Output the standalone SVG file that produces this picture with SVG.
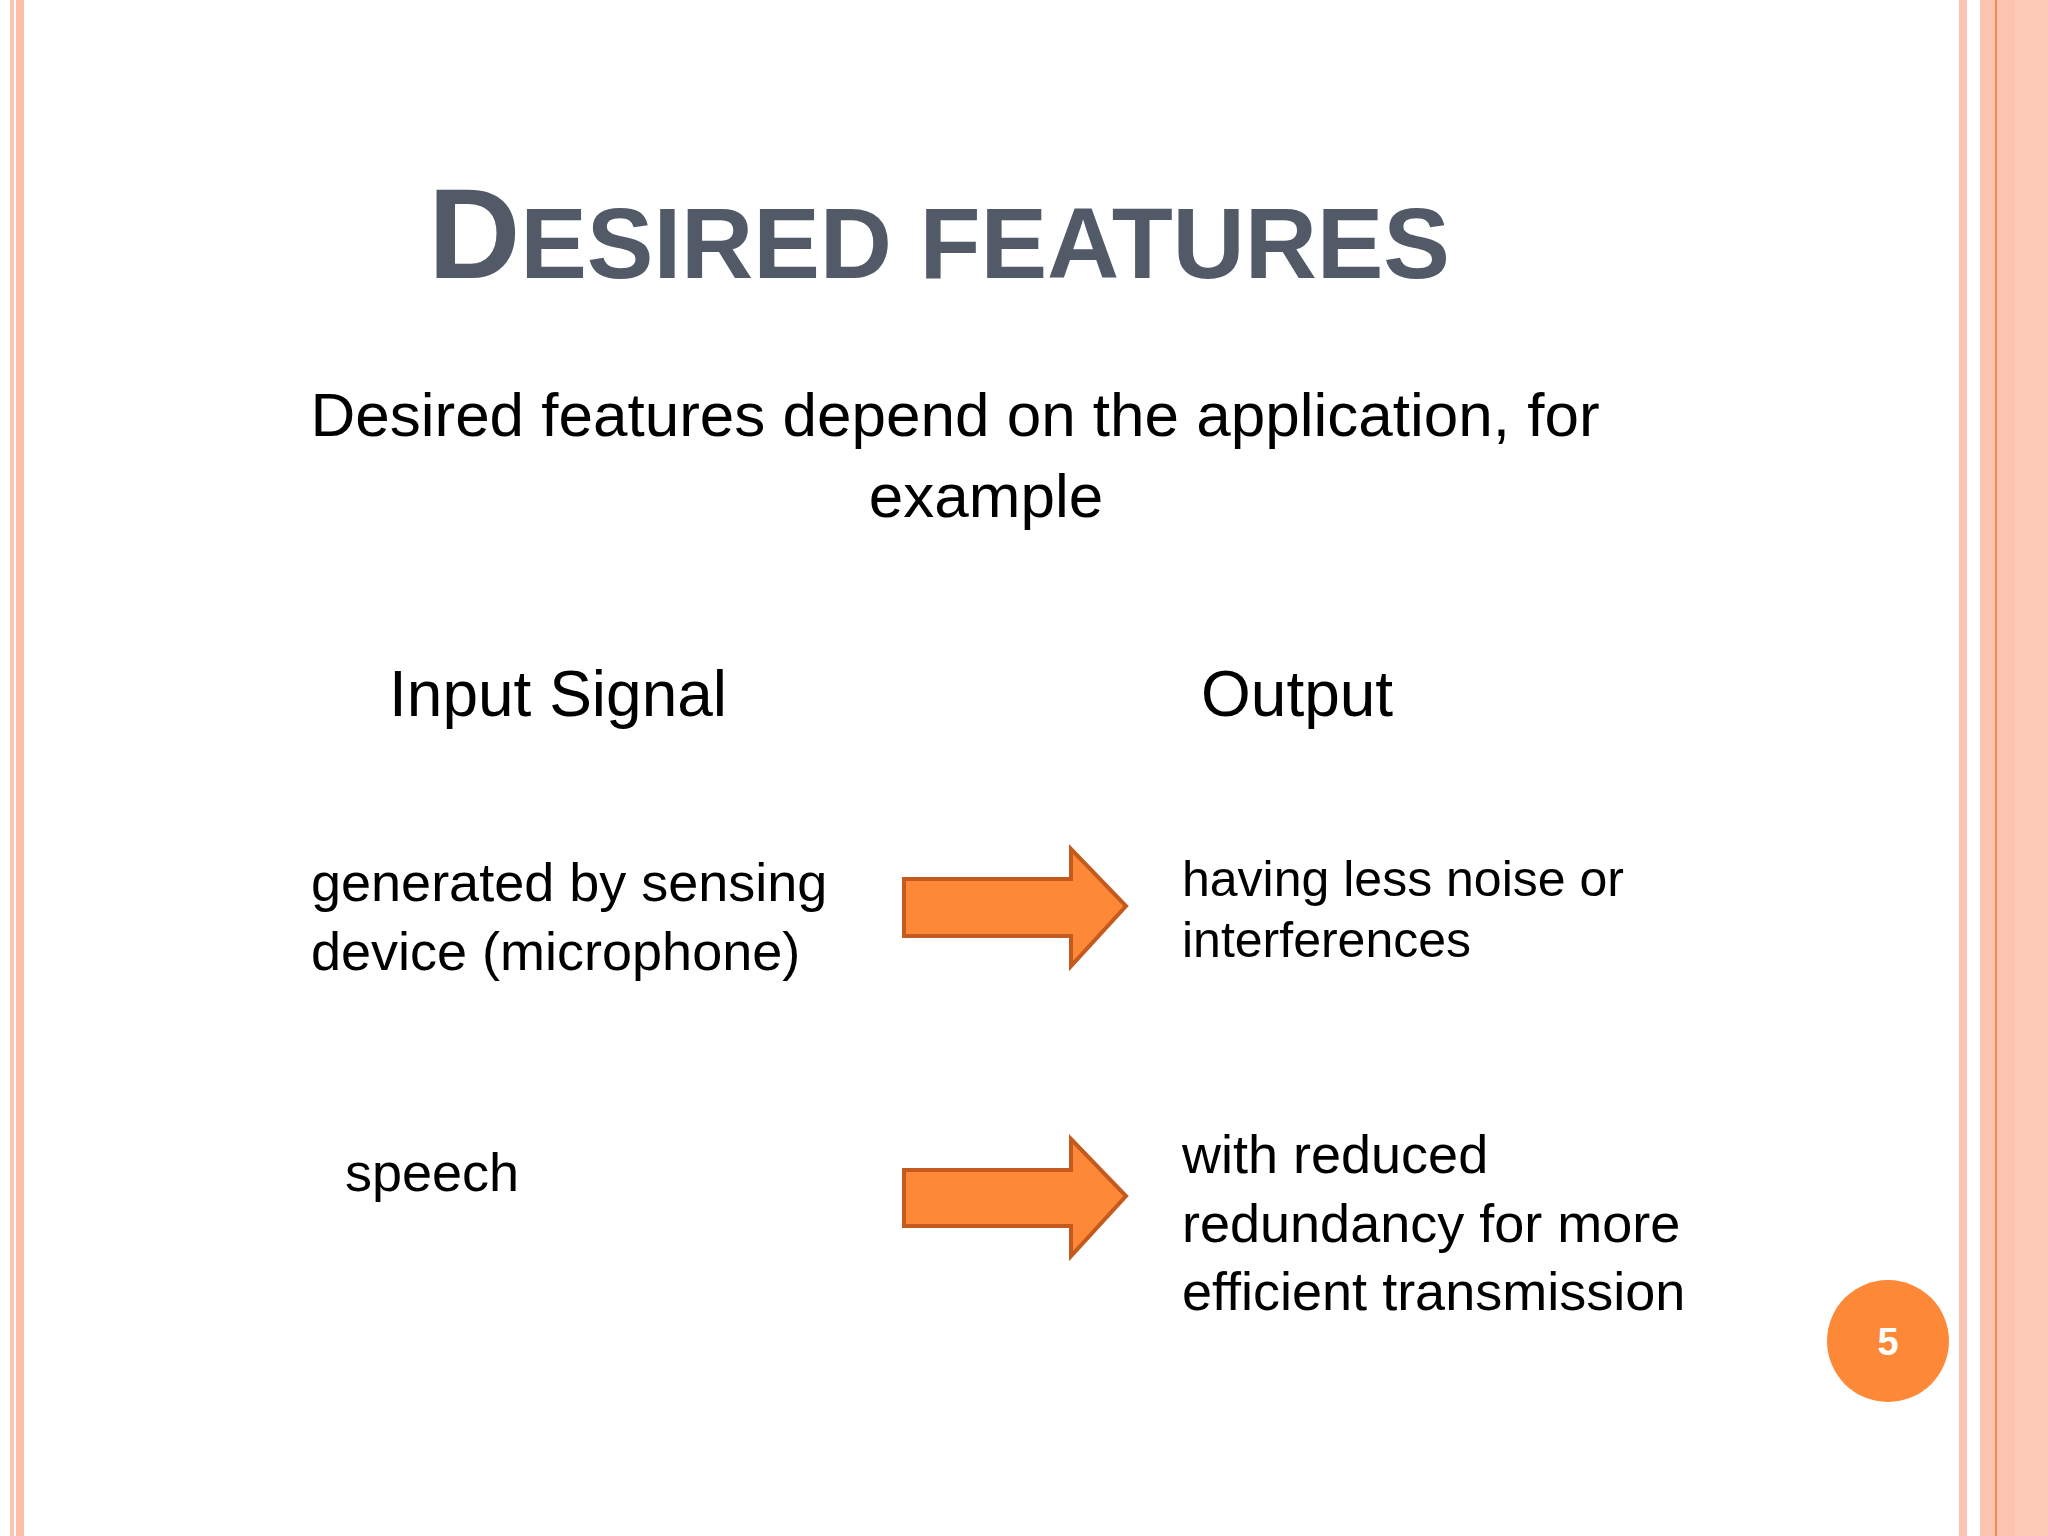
<svg xmlns="http://www.w3.org/2000/svg" width="2048" height="1536" viewBox="0 0 2048 1536">
<style>
.t{font-family:"Liberation Sans",Arial,sans-serif;fill:#000}
.ar{fill:#fd8837;stroke:#c45a1e;stroke-width:4}
</style>
<rect width="2048" height="1536" fill="#fff"/>
<g id="border">
<rect x="10" y="0" width="4" height="1536" fill="#f9c3b3"/>
<rect x="16" y="0" width="8" height="1536" fill="#fdbfa8"/>
<rect x="1959" y="0" width="8" height="1536" fill="#fcc4b0"/>
<rect x="1980" y="0" width="35" height="1536" fill="#fcc4b0"/>
<rect x="1995" y="0" width="2" height="1536" fill="#f28a4e"/>
<rect x="2015" y="0" width="33" height="1536" fill="#fccab6"/>
</g>
<g id="title"><text x="428" y="278" font-family="Liberation Sans,Arial,sans-serif" font-weight="bold" fill="#525a68" font-size="100" textLength="1022"><tspan font-size="128">D</tspan>ESIRED FEATURES</text></g>
<g id="subtitle">
<text class="t" x="955" y="436" font-size="62" text-anchor="middle">Desired features depend on the application, for</text>
<text class="t" x="986" y="517" font-size="62" text-anchor="middle">example</text>
</g>
<g id="h-input"><text class="t" x="389" y="716" font-size="64">Input Signal</text></g>
<g id="h-output"><text class="t" x="1201" y="716" font-size="64">Output</text></g>
<g id="in1"><text class="t" x="311" y="901" font-size="54">generated by sensing</text><text class="t" x="311" y="970" font-size="54">device (microphone)</text></g>
<g id="out1"><text class="t" x="1182" y="896" font-size="50">having less noise or</text><text class="t" x="1182" y="957" font-size="50">interferences</text></g>
<g id="in2"><text class="t" x="345" y="1191" font-size="54">speech</text></g>
<g id="out2"><text class="t" x="1182" y="1173" font-size="54">with reduced</text><text class="t" x="1182" y="1242" font-size="54">redundancy for more</text><text class="t" x="1182" y="1310" font-size="54">efficient transmission</text></g>
<g id="connectors">
<path class="ar" d="M904 879H1071V849L1126 906L1071 966V936H904Z"/>
<path class="ar" d="M904 1170H1071V1139L1126 1196L1071 1256V1226H904Z"/>
</g>
<g id="page"><circle cx="1888" cy="1341" r="61" fill="#fd8837"/><text x="1888" y="1355" font-family="Liberation Sans,Arial,sans-serif" font-weight="bold" font-size="38" fill="#fff" text-anchor="middle">5</text></g>
</svg>
